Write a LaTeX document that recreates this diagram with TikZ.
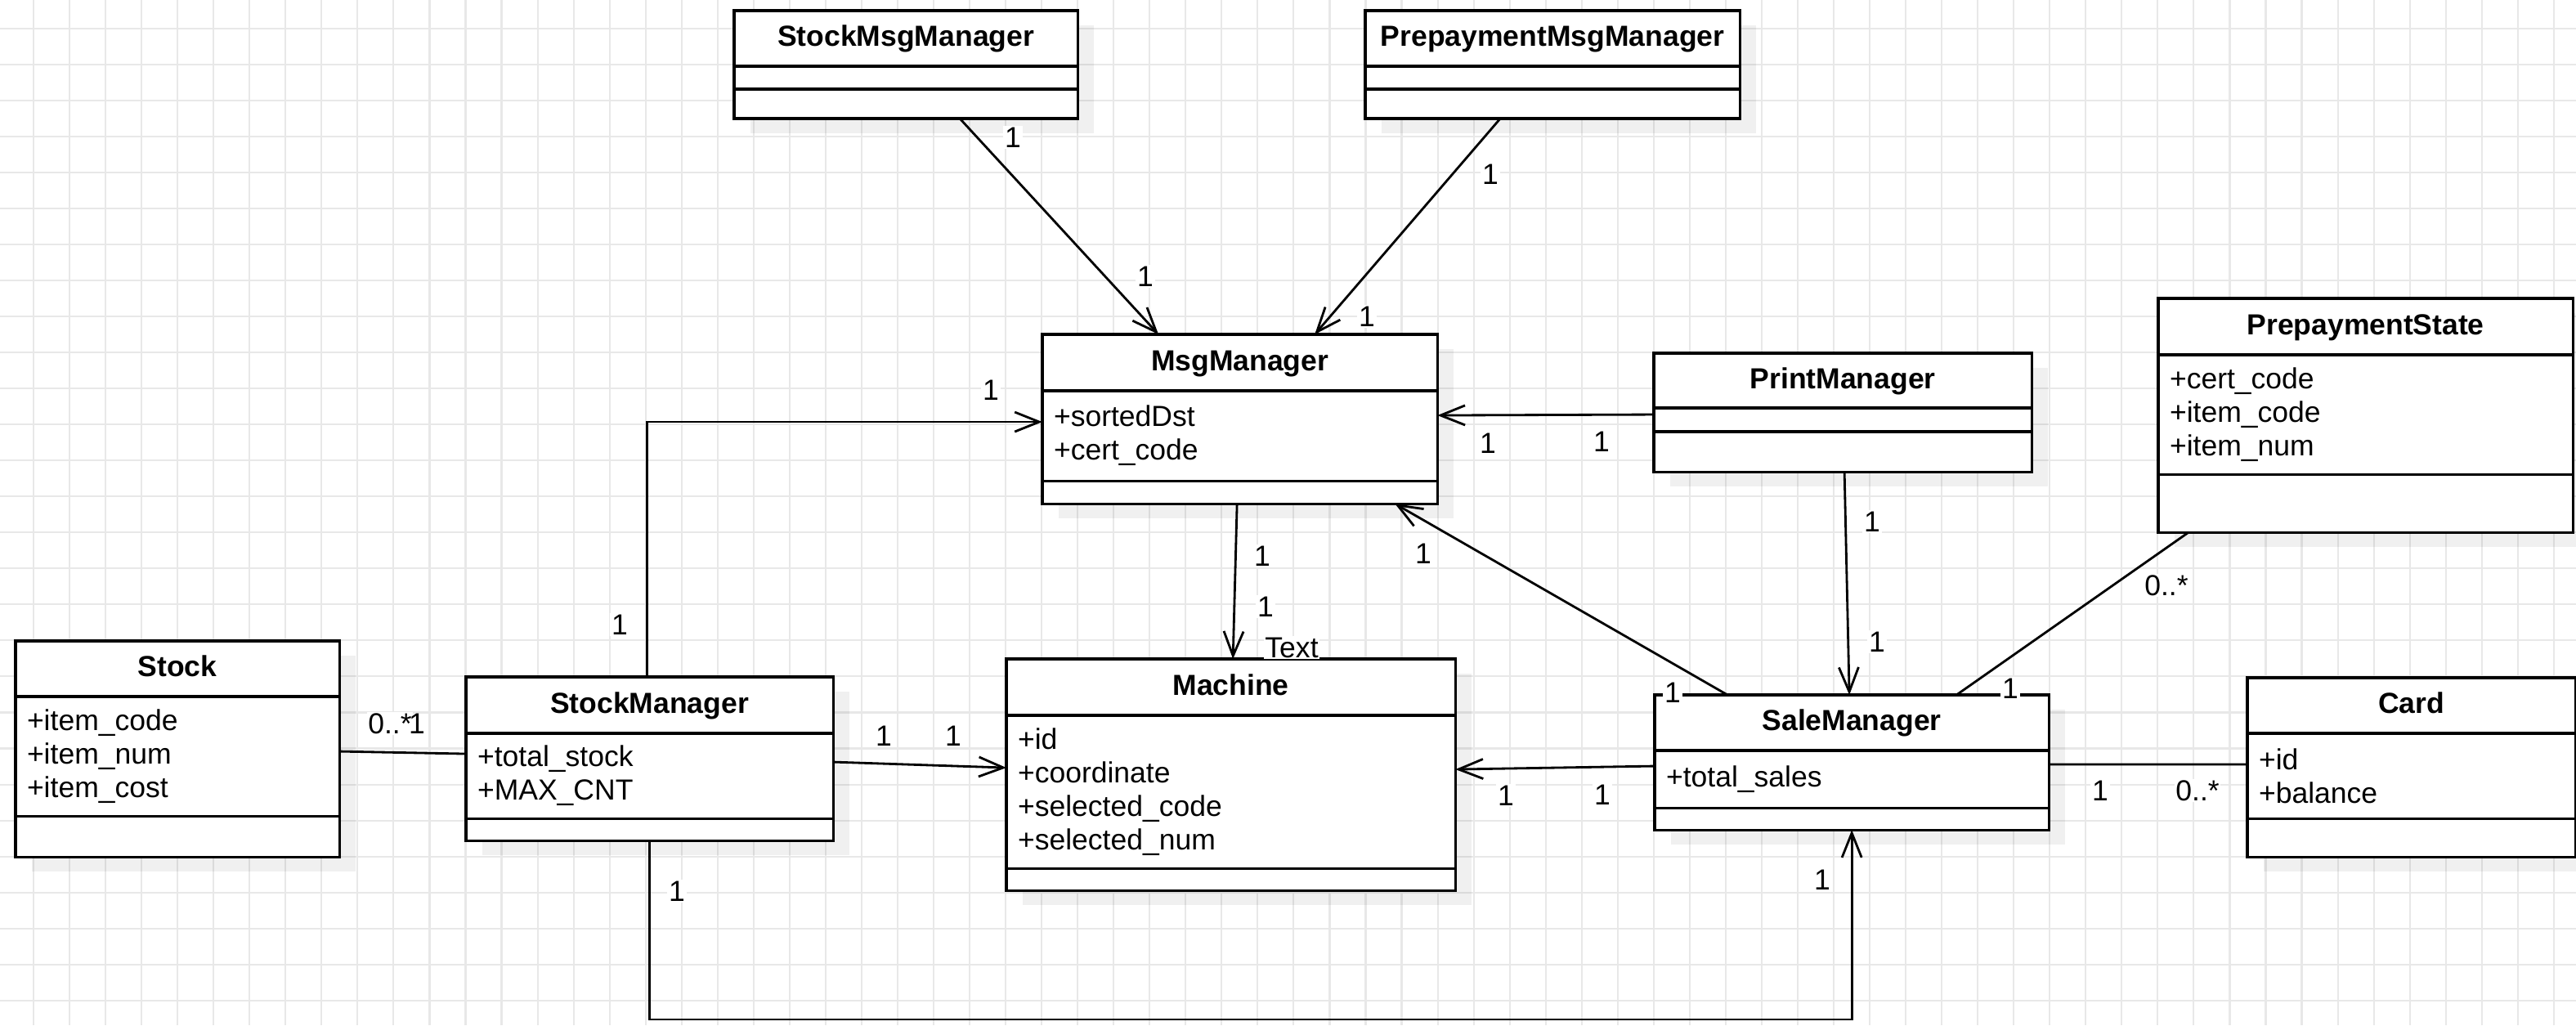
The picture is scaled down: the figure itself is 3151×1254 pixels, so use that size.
\documentclass[tikz,border=0pt]{standalone}
\usepackage{fontspec}
\setmainfont{Liberation Sans}
\usepackage{tikz}
\usetikzlibrary{arrows.meta, positioning, shadows}

\begin{document}
\fontsize{10.1pt}{11.7pt}\selectfont
\begin{tikzpicture}[x=0.01cm, y=-0.01cm]
            %Page and background grid
            \useasboundingbox (0,0) rectangle (3151,1254);
            \clip (0,0) rectangle (3151,1254);
            \fill[white] (0,0) rectangle (3151,1254);
            \foreach \k in {0,...,70}
                \draw[gray!18, line width=0.6pt] ({41+44.04*\k},0) -- ({41+44.04*\k},1254);
            \foreach \k in {0,...,27}
                \draw[gray!18, line width=0.6pt] (0,{34.7+44.04*\k}) -- (3151,{34.7+44.04*\k});

            %Block styles
            \tikzstyle{part} = [draw, fill=white, line width=0.9pt, inner xsep=0.14cm, inner ysep=0pt, outer sep=0pt, drop shadow={shadow xshift=0.2cm, shadow yshift=-0.18cm, opacity=0.06, fill=black}]
            \tikzstyle{head} = [part, align=center, font=\bfseries, text height=0.26cm, text depth=0.07cm]
            \tikzstyle{attr} = [part, align=left]
            \tikzstyle{mult} = [fill=white, inner sep=0.5pt]
            \tikzstyle{assoc} = [line width=0.8pt]
            \tikzstyle{nav} = [assoc, -{Straight Barb[length=0.3cm, width=0.24cm]}]

            %Classes
            \node[head, anchor=north west, text width=3.92cm, minimum height=0.68cm] at (898,13) (smsg) {StockMsgManager};
            \node[attr, below=0pt of smsg, text width=3.92cm, minimum height=0.28cm] (smsgA) {};
            \node[attr, below=0pt of smsgA, text width=3.92cm, minimum height=0.36cm] (smsgO) {};

            \node[head, anchor=north west, text width=4.30cm, minimum height=0.68cm] at (1670,13) (pmsg) {PrepaymentMsgManager};
            \node[attr, below=0pt of pmsg, text width=4.30cm, minimum height=0.28cm] (pmsgA) {};
            \node[attr, below=0pt of pmsgA, text width=4.30cm, minimum height=0.36cm] (pmsgO) {};

            \node[head, anchor=north west, text width=4.55cm, minimum height=0.69cm] at (1275,409) (msg) {MsgManager};
            \node[attr, below=0pt of msg, text width=4.55cm, minimum height=1.10cm] (msgA) {+sortedDst\\+cert\_code};
            \node[attr, below=0pt of msgA, text width=4.55cm, minimum height=0.28cm] (msgO) {};

            \node[head, anchor=north west, text width=4.34cm, minimum height=0.67cm] at (2023,432) (print) {PrintManager};
            \node[attr, below=0pt of print, text width=4.34cm, minimum height=0.29cm] (printA) {};
            \node[attr, below=0pt of printA, text width=4.34cm, minimum height=0.49cm] (printO) {};

            \node[head, anchor=north west, text width=4.79cm, minimum height=0.69cm] at (2640,365) (pstate) {PrepaymentState};
            \node[attr, below=0pt of pstate, text width=4.79cm, minimum height=1.46cm] (pstateA) {+cert\_code\\+item\_code\\+item\_num};
            \node[attr, below=0pt of pstateA, text width=4.79cm, minimum height=0.71cm] (pstateO) {};

            \node[head, anchor=north west, text width=3.68cm, minimum height=0.68cm] at (19,784) (stock) {Stock};
            \node[attr, below=0pt of stock, text width=3.68cm, minimum height=1.46cm] (stockA) {+item\_code\\+item\_num\\+item\_cost};
            \node[attr, below=0pt of stockA, text width=3.68cm, minimum height=0.50cm] (stockO) {};

            \node[head, anchor=north west, text width=4.21cm, minimum height=0.69cm] at (570,828) (stockm) {StockManager};
            \node[attr, below=0pt of stockm, text width=4.21cm, minimum height=1.04cm] (stockmA) {+total\_stock\\+MAX\_CNT};
            \node[attr, below=0pt of stockmA, text width=4.21cm, minimum height=0.27cm] (stockmO) {};

            \node[head, anchor=north west, text width=5.21cm, minimum height=0.69cm] at (1231,806) (machine) {Machine};
            \node[attr, below=0pt of machine, text width=5.21cm, minimum height=1.87cm] (machineA) {+id\\+coordinate\\+selected\_code\\+selected\_num};
            \node[attr, below=0pt of machineA, text width=5.21cm, minimum height=0.27cm] (machineO) {};

            \node[head, anchor=north west, text width=4.54cm, minimum height=0.68cm] at (2024,850) (sale) {SaleManager};
            \node[attr, below=0pt of sale, text width=4.54cm, minimum height=0.70cm] (saleA) {+total\_sales};
            \node[attr, below=0pt of saleA, text width=4.54cm, minimum height=0.27cm] (saleO) {};

            \node[head, anchor=north west, text width=3.73cm, minimum height=0.68cm] at (2749,829) (card) {Card};
            \node[attr, below=0pt of card, text width=3.73cm, minimum height=1.04cm] (cardA) {+id\\+balance};
            \node[attr, below=0pt of cardA, text width=3.73cm, minimum height=0.47cm] (cardO) {};

            %Connectors
            \coordinate (bottom) at (0,1247);
            \draw[nav] ([xshift=0.66cm]smsgO.south) -- ([xshift=-0.995cm]msg.north);
            \draw[nav] ([xshift=-0.64cm]pmsgO.south) -- ([xshift=0.915cm]msg.north);
            \draw[nav] ([xshift=-0.03cm]stockm.north) |- ([yshift=0.17cm]msgA.west);
            \draw[nav] ([yshift=0.065cm]printA.west) -- ([yshift=0.25cm]msgA.east);
            \draw[nav] ([xshift=-0.035cm]msgO.south) -- ([xshift=0.025cm]machine.north);
            \draw[nav] ([yshift=0.17cm]stockmA.east) -- ([yshift=0.295cm]machineA.west);
            \draw[nav] ([yshift=0.16cm]saleA.west) -- ([yshift=0.275cm]machineA.east);
            \draw[nav] ([xshift=-1.52cm]sale.north) -- ([xshift=1.895cm]msgO.south);
            \draw[nav] ([xshift=0.02cm]printO.south) -- ([xshift=-0.03cm]sale.north);
            \draw[assoc] ([xshift=-2.165cm]pstateO.south) -- ([xshift=1.28cm]sale.north);
            \draw[assoc] ([yshift=0.06cm]stockA.east) -- ([yshift=0.27cm]stockmA.west);
            \draw[assoc] ([yshift=0.18cm]saleA.east) -- ([yshift=0.14cm]cardA.west);
            \draw[nav] (stockmO.south) -- (stockmO.south |- bottom) -| (saleO.south);

            %Multiplicities
            \node[mult] at (1239,168) (m1a) {1};
            \node[mult] at (1401,338) (m1b) {1};
            \node[mult] at (1823,213) (m2a) {1};
            \node[mult] at (1672,387) (m2b) {1};
            \node[mult] at (758,764) (m3a) {1};
            \node[mult] at (1212,477) (m3b) {1};
            \node[mult] at (1959,540) (m4a) {1};
            \node[mult] at (1820,542) (m4b) {1};
            \node[mult] at (1544,680) (m5a) {1};
            \node[mult] at (1548,742) (m5b) {1};
            \node[mult] at (1580,792) (m5t) {Text};
            \node[mult] at (1081,900) (m6a) {1};
            \node[mult] at (1166,900) (m6b) {1};
            \node[mult] at (1960,972) (m7a) {1};
            \node[mult] at (1842,973) (m7b) {1};
            \node[mult] at (2046,847) (m8a) {1};
            \node[mult] at (1741,677) (m8b) {1};
            \node[mult] at (2290,638) (m9a) {1};
            \node[mult] at (2296,785) (m9b) {1};
            \node[mult] at (2650,716) (m10a) {0..*};
            \node[mult] at (2459,842) (m10b) {1};
            \node[mult] at (477,885) (m11a) {0..*};
            \node[mult, fill=none] at (510,885) (m11b) {1};
            \node[mult] at (2569,967) (m12a) {1};
            \node[mult] at (2688,967) (m12b) {0..*};
            \node[mult] at (828,1090) (m13a) {1};
            \node[mult] at (2229,1076) (m13b) {1};
        \end{tikzpicture}
\end{document}
